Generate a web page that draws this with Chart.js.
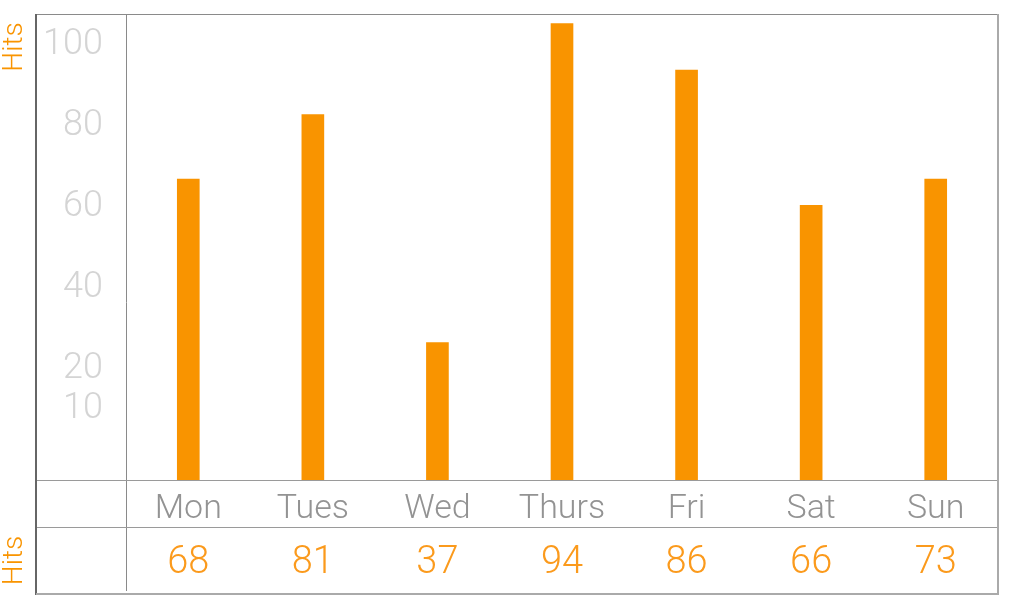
<!DOCTYPE html>
<html>
<head>
<meta charset="utf-8">
<script src="https://cdn.jsdelivr.net/npm/chart.js@4/dist/chart.umd.min.js"></script>
<style>
  html, body { margin: 0; padding: 0; background: #fff; }
  #wrap { width: 1020px; height: 609px; }
</style>
</head>
<body>
<div id="wrap"><canvas id="hitsChart" width="1020" height="609"></canvas></div>
<script>
// data
const days = ['Mon', 'Tues', 'Wed', 'Thurs', 'Fri', 'Sat', 'Sun'];
const barValues = [66.5, 82.5, 26, 105, 93.5, 60, 66.5];
const hits = [68, 81, 37, 94, 86, 66, 73];
const yTicks = [10, 20, 40, 60, 80, 100];

const orange = '#f99400';
const font = '"Roboto Light", "Roboto Thin", Roboto';

function noPadding(scale) {
    scale.paddingTop = 0;
    scale.paddingBottom = 0;
    scale.paddingLeft = 0;
    scale.paddingRight = 0;
}

function sideLabel(ctx, text, x, y) {
    ctx.save();
    ctx.translate(x, y);
    ctx.rotate(-Math.PI / 2);
    ctx.fillStyle = orange;
    ctx.font = '300 28px ' + font;
    ctx.textAlign = 'center';
    ctx.textBaseline = 'middle';
    ctx.fillText(text, 0, 0);
    ctx.restore();
}

// table frame around plot, label row and hits row
const framePlugin = {
    id: 'frame',
    afterDraw(chart) {
        const ctx = chart.ctx;
        const area = chart.chartArea;
        const xs = chart.scales.x;
        const x2 = chart.scales.x2;
        const left = 36;
        const right = area.right;
        const top = area.top;
        const bottom = x2.bottom;

        ctx.save();
        ctx.lineWidth = 1;
        ctx.strokeStyle = '#8a8a8a';
        ctx.beginPath();
        ctx.moveTo(left, top + 0.5); ctx.lineTo(right, top + 0.5);
        ctx.moveTo(area.left + 0.5, top); ctx.lineTo(area.left + 0.5, bottom - 3);
        ctx.stroke();

        ctx.strokeStyle = '#9a9a9a';
        ctx.beginPath();
        ctx.moveTo(left, area.bottom + 0.5); ctx.lineTo(right, area.bottom + 0.5);
        ctx.moveTo(left, xs.bottom + 0.5); ctx.lineTo(right, xs.bottom + 0.5);
        ctx.stroke();

        ctx.lineWidth = 2;
        ctx.strokeStyle = '#666';
        ctx.beginPath();
        ctx.moveTo(left, top); ctx.lineTo(left, bottom + 1);
        ctx.stroke();
        ctx.strokeStyle = '#aaa';
        ctx.beginPath();
        ctx.moveTo(right, top); ctx.lineTo(right, bottom);
        ctx.moveTo(left, bottom); ctx.lineTo(right + 1, bottom);
        ctx.stroke();
        ctx.restore();

        // "Hits" labels for the value axis and the table row
        sideLabel(ctx, 'Hits', 14, top + 33);
        sideLabel(ctx, 'Hits', 14, (xs.bottom + bottom) / 2);
    }
};

const data = {
    labels: days,
    datasets: [{
        label: 'Hits',
        data: barValues,
        backgroundColor: orange,
        borderWidth: 0,
        barThickness: 22,
        base: -8,
    }]
};

const config = {
    type: 'bar',
    data: data,
    options: {
        responsive: false,
        animation: false,
        layout: {
            padding: { top: 14, right: 22, bottom: 15, left: 0 }
        },
        plugins: {
            legend: { display: false },
            tooltip: { enabled: false },
        },
        scales: {
            x: {
                position: 'bottom',
                weight: 0,
                grid: { display: false, drawTicks: false },
                border: { display: false },
                ticks: {
                    color: '#939393',
                    font: { family: font, size: 34, weight: '300' },
                    padding: 8,
                    maxRotation: 0,
                    autoSkip: false,
                },
                afterFit(scale) { scale.height = 47; noPadding(scale); },
            },
            x2: {
                type: 'category',
                labels: hits.map(String),
                position: 'bottom',
                weight: 1,
                offset: true,
                grid: { display: false, drawTicks: false },
                border: { display: false },
                ticks: {
                    color: '#fb9a1c',
                    font: { family: font, size: 38, weight: '300' },
                    padding: 12,
                    maxRotation: 0,
                    autoSkip: false,
                },
                afterFit(scale) { scale.height = 67; noPadding(scale); },
            },
            y: {
                min: -8,
                max: 107.4,
                grid: { display: false, drawTicks: false },
                border: { display: false },
                afterBuildTicks(scale) {
                    scale.ticks = yTicks.map(v => ({ value: v }));
                },
                ticks: {
                    color: '#d4d4d4',
                    font: { family: font, size: 36, weight: '300' },
                    padding: 23,
                },
                afterFit(scale) { scale.width = 126; noPadding(scale); },
            }
        }
    },
    plugins: [framePlugin]
};

const ctx = document.getElementById('hitsChart').getContext('2d');
window.hitsChart = new Chart(ctx, config);
</script>
</body>
</html>
